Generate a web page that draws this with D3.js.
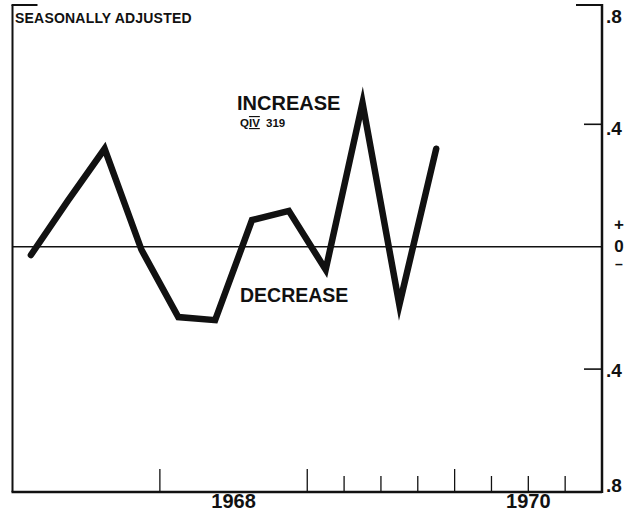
<!DOCTYPE html>
<html>
<head>
<meta charset="utf-8">
<script src="https://cdn.jsdelivr.net/npm/d3@7"></script>
<style>
  html, body { margin: 0; padding: 0; background: #fff; }
  svg { display: block; }
  text { font-family: "Liberation Sans", Arial, sans-serif; font-weight: bold; fill: #111; }
</style>
</head>
<body>
<svg id="chart" width="641" height="516"></svg>
<script>
// ---- data (quarterly, seasonally adjusted change) ----
const quarters = [1967.125, 1967.375, 1967.625, 1967.875,
                  1968.125, 1968.375, 1968.625, 1968.875,
                  1969.125, 1969.375, 1969.625, 1969.875];
const values   = [-0.027, 0.15, 0.32, -0.01,
                  -0.23, -0.24, 0.087, 0.117,
                  -0.075, 0.47, -0.19, 0.32];
const yearTicks    = [1968, 1969, 1970];
const quarterTicks = [1969.25, 1969.5, 1969.75, 1970.25, 1970.5, 1970.75];
const yearLabels   = [1968, 1970];
const yTickValues  = [0.8, 0.4, -0.4, -0.8];
const yTickLabels  = [".8", ".4", ".4", ".8"];

const svg = d3.select("#chart");
const x = d3.scaleLinear().domain([1967, 1971]).range([12.5, 602]);
const y = d3.scaleLinear().domain([-0.8, 0.8]).range([491.5, 1.9]);

const ink = "#111";
const frameTop = 5, frameBottom = 492;

// frame: left axis, right axis, bottom axis
svg.append("line").attr("x1", x(1967)).attr("x2", x(1967)).attr("y1", frameTop).attr("y2", frameBottom)
  .attr("stroke", ink).attr("stroke-width", 2);
svg.append("line").attr("x1", x(1971)).attr("x2", x(1971)).attr("y1", frameTop - 1).attr("y2", frameBottom + 1)
  .attr("stroke", ink).attr("stroke-width", 2.5);
svg.append("line").attr("x1", x(1967) - 1).attr("x2", x(1971)).attr("y1", frameBottom).attr("y2", frameBottom)
  .attr("stroke", ink).attr("stroke-width", 2.5);
// short top corner strokes
svg.append("line").attr("x1", x(1967) - 1).attr("x2", x(1967) + 25).attr("y1", frameTop).attr("y2", frameTop)
  .attr("stroke", ink).attr("stroke-width", 2);
svg.append("line").attr("x1", x(1971) - 26).attr("x2", x(1971) + 1).attr("y1", frameTop).attr("y2", frameTop)
  .attr("stroke", ink).attr("stroke-width", 2);

// zero line
svg.append("line").attr("x1", x(1967)).attr("x2", x(1971)).attr("y1", y(0)).attr("y2", y(0))
  .attr("stroke", ink).attr("stroke-width", 1.6);

// right-side y ticks (.4 levels) pointing inward
svg.selectAll(".ytick").data([0.4, -0.4]).enter().append("line")
  .attr("x1", x(1971) - 18).attr("x2", x(1971)).attr("y1", d => y(d)).attr("y2", d => y(d))
  .attr("stroke", ink).attr("stroke-width", 1.6);

// y labels on right
const yLabelOffsets = [16, 6, 3, -5];
svg.selectAll(".ylab").data(yTickValues).enter().append("text")
  .attr("x", x(1971) + 4).attr("y", (d, i) => y(d) + yLabelOffsets[i])
  .attr("dominant-baseline", "middle")
  .attr("font-size", 19).text((d, i) => yTickLabels[i]);
// + 0 − around zero
svg.append("text").attr("x", 619).attr("y", y(0) - 16.5).attr("text-anchor", "middle")
  .attr("font-size", 17).text("+");
svg.append("text").attr("x", 619).attr("y", y(0) + 5.5).attr("text-anchor", "middle")
  .attr("font-size", 17).text("0");
svg.append("text").attr("x", 619).attr("y", y(0) + 22.5).attr("text-anchor", "middle")
  .attr("font-size", 14).text("\u2013");

// bottom ticks
svg.selectAll(".yt").data(yearTicks).enter().append("line")
  .attr("x1", d => x(d)).attr("x2", d => x(d)).attr("y1", 469).attr("y2", frameBottom)
  .attr("stroke", ink).attr("stroke-width", 1.3);
svg.selectAll(".qt").data(quarterTicks).enter().append("line")
  .attr("x1", d => x(d)).attr("x2", d => x(d)).attr("y1", 476).attr("y2", frameBottom)
  .attr("stroke", ink).attr("stroke-width", 1.3);
svg.selectAll(".yl").data(yearLabels).enter().append("text")
  .attr("x", d => x(d + 0.5)).attr("y", 508).attr("text-anchor", "middle")
  .attr("font-size", 20).text(d => d);

// series line
const line = d3.line().x((d, i) => x(quarters[i])).y(d => y(d));
svg.append("path").datum(values).attr("d", line)
  .attr("fill", "none").attr("stroke", ink).attr("stroke-width", 6.5)
  .attr("stroke-linejoin", "miter").attr("stroke-miterlimit", 6).attr("stroke-linecap", "round");

// annotations
svg.append("text").attr("x", 15).attr("y", 23).attr("font-size", 14)
  .attr("letter-spacing", 0.2).text("SEASONALLY  ADJUSTED");
svg.append("text").attr("x", 237).attr("y", 109.5).attr("font-size", 20).text("INCREASE");
const q = svg.append("text").attr("x", 240).attr("y", 127).attr("font-size", 11.5);
q.append("tspan").text("Q");
q.append("tspan").attr("text-decoration", "overline underline").text("IV");
svg.append("text").attr("x", 266).attr("y", 127).attr("font-size", 11.5).text("319");
svg.append("text").attr("x", 240).attr("y", 302).attr("font-size", 19.5).text("DECREASE");
</script>
</body>
</html>
